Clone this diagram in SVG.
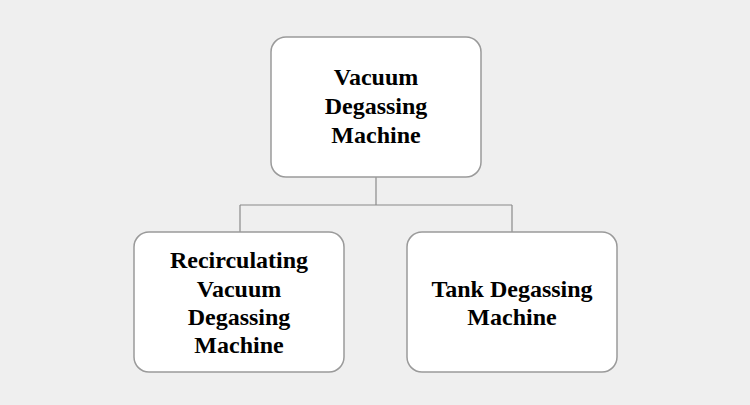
<svg xmlns="http://www.w3.org/2000/svg" width="750" height="405" viewBox="0 0 750 405">
<style>
.box{fill:#ffffff;stroke:#9a9a9a;stroke-width:1.5}
.lbl{font-family:"Liberation Serif","Times New Roman",serif;font-weight:bold;font-size:24px;fill:#000;text-anchor:middle}
.con{fill:none;stroke:#8a8a8a;stroke-width:1.2}
</style>
<rect x="0" y="0" width="750" height="405" fill="#efefef"/>
<g id="connectors">
<path class="con" d="M376 177 V205 M240 205 H512 M240 205 V232 M512 205 V232"/>
</g>
<g id="node-top">
<rect class="box" x="271" y="37" width="210" height="140" rx="15"/>
<text class="lbl" x="376" y="85">Vacuum</text>
<text class="lbl" x="376" y="114">Degassing</text>
<text class="lbl" x="376" y="143">Machine</text>
</g>
<g id="node-left">
<rect class="box" x="134" y="232" width="210" height="140" rx="15"/>
<text class="lbl" x="239" y="268">Recirculating</text>
<text class="lbl" x="239" y="297">Vacuum</text>
<text class="lbl" x="239" y="325">Degassing</text>
<text class="lbl" x="239" y="353">Machine</text>
</g>
<g id="node-right">
<rect class="box" x="407" y="232" width="210" height="140" rx="15"/>
<text class="lbl" x="512" y="297">Tank Degassing</text>
<text class="lbl" x="512" y="325">Machine</text>
</g>
</svg>
